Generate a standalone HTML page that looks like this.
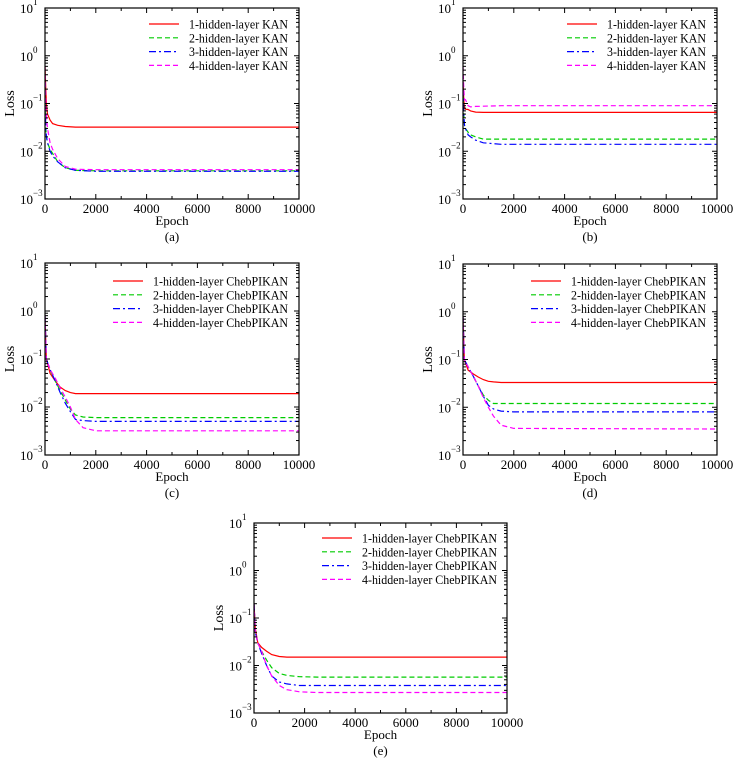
<!DOCTYPE html>
<html><head><meta charset="utf-8"><style>
html,body{margin:0;padding:0;background:#fff;}
svg{display:block;font-family:"Liberation Serif",serif;}
</style></head><body>
<svg id="fig" width="748" height="760" viewBox="0 0 748 760"></svg>
<script>
const xTicks=[0,2000,4000,6000,8000,10000];
const yExps=[-3,-2,-1,0,1];
const seriesColors=["#ff0000","#00cc00","#0000ff","#ff00ff"];
const seriesDash=["","5,3","7,3,2,3","5,3"];
// panel (a)
const aEpochs=[0,30,60,100,200,300,500,800,1200,2000,10000];
const a1=[0.6,0.2,0.09,0.06,0.045,0.038,0.035,0.033,0.032,0.032,0.032];
const a2=[0.1,0.03,0.02,0.015,0.011,0.009,0.006,0.0045,0.004,0.0039,0.0039];
const a3=[0.1,0.03,0.02,0.015,0.01,0.008,0.006,0.0045,0.004,0.0038,0.0038];
const a4=[0.6,0.1,0.05,0.03,0.015,0.011,0.007,0.0048,0.0042,0.0041,0.0041];
// panel (b)
const bEpochs=[0,30,60,100,200,300,500,800,1500,10000];
const b1=[0.3,0.12,0.08,0.076,0.075,0.07,0.066,0.065,0.065,0.065];
const b2=[0.2,0.06,0.035,0.03,0.025,0.022,0.02,0.018,0.018,0.018];
const b3=[0.2,0.06,0.035,0.03,0.022,0.02,0.017,0.015,0.014,0.014];
const b4=[0.6,0.2,0.12,0.12,0.09,0.085,0.087,0.088,0.09,0.09];
// panel (c)
const cEpochs=[0,50,200,400,600,800,1000,1200,1500,2000,10000];
const c1=[0.8,0.1,0.05,0.035,0.026,0.022,0.02,0.019,0.019,0.019,0.019];
const c2=[0.8,0.1,0.06,0.035,0.022,0.014,0.009,0.0068,0.0062,0.006,0.006];
const c3=[0.8,0.1,0.06,0.035,0.02,0.012,0.008,0.0055,0.0052,0.005,0.005];
const c4=[0.8,0.1,0.06,0.04,0.025,0.016,0.01,0.0055,0.0037,0.0032,0.0032];
// panel (d)
const dEpochs=[0,50,200,400,600,800,1000,1200,1500,2000,10000];
const d1=[0.8,0.1,0.06,0.05,0.043,0.038,0.035,0.034,0.033,0.033,0.033];
const d2=[0.8,0.1,0.07,0.045,0.028,0.018,0.014,0.012,0.012,0.012,0.012];
const d3=[0.8,0.1,0.07,0.045,0.028,0.017,0.011,0.0092,0.0083,0.008,0.008];
const d4=[0.8,0.1,0.07,0.045,0.028,0.016,0.01,0.0065,0.0042,0.0036,0.0035];
// panel (e)
const eEpochs=[0,50,150,300,500,700,1000,1300,1800,2500,10000];
const e1=[0.2,0.06,0.03,0.024,0.02,0.017,0.0155,0.015,0.015,0.015,0.015];
const e2=[0.2,0.05,0.03,0.02,0.013,0.009,0.0068,0.0062,0.0058,0.0057,0.0057];
const e3=[0.2,0.05,0.03,0.018,0.01,0.006,0.0045,0.0041,0.0038,0.0038,0.0038];
const e4=[0.2,0.05,0.03,0.02,0.01,0.006,0.0038,0.0031,0.0028,0.0027,0.0027];

const kanLabels=["1-hidden-layer KAN","2-hidden-layer KAN","3-hidden-layer KAN","4-hidden-layer KAN"];
const chebLabels=["1-hidden-layer ChebPIKAN","2-hidden-layer ChebPIKAN","3-hidden-layer ChebPIKAN","4-hidden-layer ChebPIKAN"];

const panels=[
 {id:"a",L:45,R:299,T:8,B:199,ep:aEpochs,s:[a1,a2,a3,a4],lab:kanLabels,lx:149,ly:24,tw:99},
 {id:"b",L:463,R:717,T:8,B:199,ep:bEpochs,s:[b1,b2,b3,b4],lab:kanLabels,lx:567,ly:24,tw:99},
 {id:"c",L:45,R:299,T:263,B:455,ep:cEpochs,s:[c1,c2,c3,c4],lab:chebLabels,lx:113,ly:281,tw:135},
 {id:"d",L:463,R:717,T:264,B:455,ep:dEpochs,s:[d1,d2,d3,d4],lab:chebLabels,lx:531,ly:281,tw:135},
 {id:"e",L:254,R:507,T:523,B:713,ep:eEpochs,s:[e1,e2,e3,e4],lab:chebLabels,lx:322,ly:538,tw:135}
];
const NS="http://www.w3.org/2000/svg";
const fig=document.getElementById("fig");
function mk(tag,attrs,parent){const e=document.createElementNS(NS,tag);for(const k in attrs)e.setAttribute(k,attrs[k]);parent.appendChild(e);return e;}

panels.forEach(p=>{
 const g=mk("g",{},fig);
 
 
 const xs=v=>p.L+(v-0)/10000*(p.R-p.L);
 const ys=v=>p.B-(Math.log10(v)+3)/4*(p.B-p.T);
 const cp=mk("clipPath",{id:"clip"+p.id},g);
 mk("rect",{x:p.L,y:p.T,width:p.R-p.L,height:p.B-p.T},cp);
 p.s.forEach((vals,i)=>{
  const d=vals.map((v,j)=>(j?"L":"M")+xs(p.ep[j]).toFixed(1)+","+ys(v).toFixed(1)).join("");
  const path=mk("path",{d:d,fill:"none",stroke:seriesColors[i],"stroke-width":1.2,"stroke-dasharray":seriesDash[i]||"none","clip-path":"url(#clip"+p.id+")"},g);
  
  
 });
 const box=mk("rect",{x:p.L,y:p.T,width:p.R-p.L,height:p.B-p.T,fill:"none",stroke:"#000","stroke-width":1.2},g);
 
 
 xTicks.forEach(t=>{
  const x=xs(t);
  mk("line",{x1:x,y1:p.B,x2:x,y2:p.B-5,stroke:"#000"},g);
  mk("line",{x1:x,y1:p.T,x2:x,y2:p.T+5,stroke:"#000"},g);
  const tx=mk("text",{x:x,y:p.B+14,"text-anchor":"middle","font-size":13},g);
  tx.textContent=t;
  
  
 });
 for(let t=1000;t<10000;t+=2000){const x=xs(t);mk("line",{x1:x,y1:p.B,x2:x,y2:p.B-3,stroke:"#000"},g);mk("line",{x1:x,y1:p.T,x2:x,y2:p.T+3,stroke:"#000"},g);}
 yExps.forEach(e=>{
  const y=ys(Math.pow(10,e));
  mk("line",{x1:p.L,y1:y,x2:p.L+5,y2:y,stroke:"#000"},g);
  mk("line",{x1:p.R,y1:y,x2:p.R-5,y2:y,stroke:"#000"},g);
  const tx=mk("text",{x:p.L-12,y:y+5,"text-anchor":"end","font-size":13},g);
  tx.textContent="10";
  
  
  const sup=mk("text",{x:p.L-12,y:y-3,"text-anchor":"start","font-size":9},g);
  sup.textContent=e<0?"\u2212"+(-e):String(e);
  if(e<1){for(let m=2;m<10;m++){const yy=ys(m*Math.pow(10,e));mk("line",{x1:p.L,y1:yy,x2:p.L+3,y2:yy,stroke:"#000"},g);mk("line",{x1:p.R,y1:yy,x2:p.R-3,y2:yy,stroke:"#000"},g);}}
 });
 const cx=(p.L+p.R)/2, cy=(p.T+p.B)/2;
 const xt=mk("text",{x:cx,y:p.B+26,"text-anchor":"middle","font-size":13},g);
 xt.textContent="Epoch";
 
 
 const yt=mk("text",{x:p.L-31,y:cy,"text-anchor":"middle","font-size":14,transform:"rotate(-90 "+(p.L-31)+" "+cy+")"},g);
 yt.textContent="Loss";
 
 
 const cap=mk("text",{x:cx,y:p.B+42,"text-anchor":"middle","font-size":13},g);
 cap.textContent="("+p.id+")";
 
 
 p.lab.forEach((l,i)=>{
  const y=p.ly+i*13.8;
  const ln=mk("line",{x1:p.lx,y1:y,x2:p.lx+30,y2:y,stroke:seriesColors[i],"stroke-width":1.2,"stroke-dasharray":seriesDash[i]||"none"},g);
  
  
  const tx=mk("text",{x:p.lx+40,y:y+4.5,"font-size":13,textLength:p.tw,lengthAdjust:"spacingAndGlyphs"},g);
  tx.textContent=l;
  
  
 });
});
</script>
</body></html>
